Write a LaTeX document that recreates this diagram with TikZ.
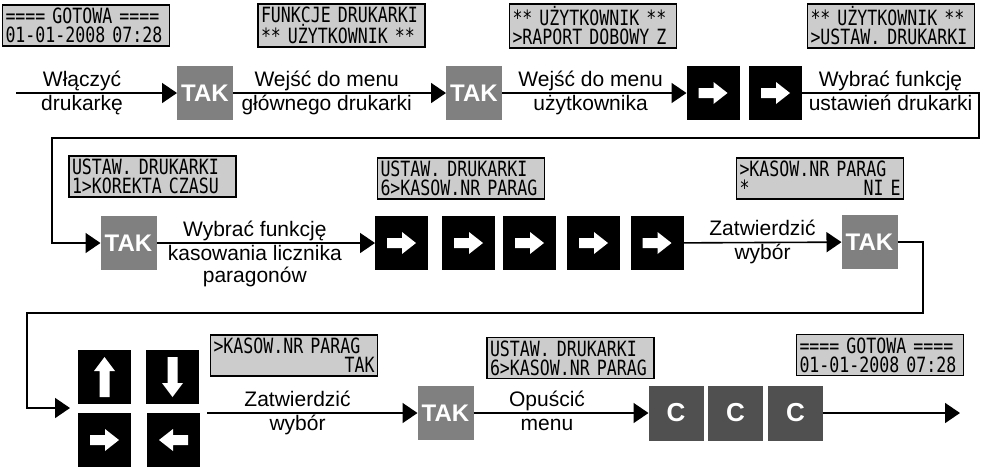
\documentclass[tikz,border=0pt]{standalone}
\usepackage{fontspec}
\setmainfont{Liberation Sans}
\newfontfamily\lcdfont[FakeStretch=0.79]{DejaVu Sans Mono}
\usetikzlibrary{arrows.meta,positioning,calc}

\definecolor{takgray}{RGB}{128,128,128}
\definecolor{cgray}{RGB}{80,80,80}
\definecolor{lcdgray}{RGB}{204,204,204}

% white arrow glyphs on the keys
\newcommand\glyphright{(-14.5,-5) -- (0.5,-5) -- (0.5,-11) -- (14.5,0) -- (0.5,11) -- (0.5,5) -- (-14.5,5) -- cycle}
\newcommand\glyphleft{(14.5,-5) -- (-0.5,-5) -- (-0.5,-11) -- (-14.5,0) -- (-0.5,11) -- (-0.5,5) -- (14.5,5) -- cycle}
\newcommand\glyphdown{(-5,-20) -- (-5,6) -- (-10.5,6) -- (0,20) -- (10.5,6) -- (5,6) -- (5,-20) -- cycle}
\newcommand\glyphup{(-5,20) -- (-5,-6) -- (-10.5,-6) -- (0,-20) -- (10.5,-6) -- (5,-6) -- (5,20) -- cycle}

\begin{document}
\begin{tikzpicture}[
  x=1pt, y=-1pt,
  lcd/.style={draw, fill=lcdgray, line width=1.8pt, align=left, text width=161pt, inner xsep=3pt, inner ysep=3pt, font=\lcdfont\fontsize{21}{19}\selectfont\frenchspacing},
  tak/.style={fill=takgray, text=white, minimum width=56pt, minimum height=54pt, inner sep=0pt, outer sep=0pt, font=\fontsize{24}{24}\selectfont\bfseries},
  ckey/.style={tak, fill=cgray, minimum width=55pt, minimum height=55pt, font=\fontsize{26}{26}\selectfont\bfseries},
  key/.style={fill=black, minimum width=53pt, minimum height=54pt, inner sep=0pt, outer sep=0pt},
  keyarrow/.style={key, path picture={\fill[white, shift={(path picture bounding box.center)}] #1;}},
  arrow/.style={-{Triangle[length=15pt,width=20pt]}, line width=1.6pt},
  lblup/.style={above, inner sep=1pt, text depth=5pt, font=\fontsize{21}{24}\selectfont},
  lbldown/.style={below, inner sep=1pt, text height=15.5pt, font=\fontsize{21}{24}\selectfont}
]
\useasboundingbox (0,0) rectangle (985,467);

% Displays
\node[lcd] (lcdA) at (86,25.5) {==== GOTOWA ====\\01-01-2008 07:28};
\node[lcd] (lcdB) at (341.5,25.5) {FUNKCJE DRUKARKI\\{}** UŻYTKOWNIK **};
\node[lcd] (lcdC) at (593,26) {** UŻYTKOWNIK **\\>RAPORT DOBOWY Z};
\node[lcd] (lcdD) at (891,26) {** UŻYTKOWNIK **\\>USTAW. DRUKARKI};
\node[lcd] (lcdE) at (152.5,176.5) {USTAW. DRUKARKI\\1>KOREKTA CZASU};
\node[lcd] (lcdF) at (461,178.5) {USTAW. DRUKARKI\\6>KASOW.NR PARAG};
\node[lcd] (lcdG) at (820,178.5) {>KASOW.NR PARAG\\{}*\hfill NI E};
\node[lcd] (lcdH) at (294,355.5) {>KASOW.NR PARAG\\\hfill TAK};
\node[lcd] (lcdI) at (570.5,358) {USTAW. DRUKARKI\\6>KASOW.NR PARAG};
\node[lcd] (lcdJ) at (880,355) {==== GOTOWA ====\\01-01-2008 07:28};

% Row 1
\coordinate (on) at (16,93);
\node[tak] (tak1) at (205,93) {TAK};
\node[tak] (tak2) at (474,93) {TAK};
\node[keyarrow=\glyphright] (r1) at (713,93) {};
\node[keyarrow=\glyphright] (r2) at (775.5,93) {};

% Row 2
\node[tak] (tak3) at (128.5,243) {TAK};
\node[keyarrow=\glyphright] (r3) at (401.5,243) {};
\node[keyarrow=\glyphright] (r4) at (468.5,243) {};
\node[keyarrow=\glyphright] (r5) at (529.5,243) {};
\node[keyarrow=\glyphright] (r6) at (593.5,243) {};
\node[keyarrow=\glyphright] (r7) at (657,243) {};
\node[tak] (tak4) at (869.5,242) {TAK};

% Row 3
\node[keyarrow=\glyphup] (kup) at (104.5,377) {};
\node[keyarrow=\glyphdown] (kdown) at (172.5,377) {};
\node[keyarrow=\glyphright] (kright) at (104.5,440) {};
\node[keyarrow=\glyphleft] (kleft) at (173.5,440) {};
\coordinate (kin) at (70,408);
\coordinate (kout) at (207,413);
\node[tak] (tak5) at (445.5,413) {TAK};
\node[ckey] (c1) at (676,413) {C};
\node[ckey] (c2) at (735.5,413) {C};
\node[ckey] (c3) at (795.5,413) {C};
\coordinate (off) at (960,413);

% Loop corners
\coordinate (turnA) at (979,138);
\coordinate (turnB) at (52,138);
\coordinate (turnC) at (923,313);
\coordinate (turnD) at (27,313);

% Arrows
\draw[arrow] (on) -- node[lblup, pos=0.41] {Włączyć} node[lbldown, pos=0.41] {drukarkę} (tak1);
\draw[arrow] (tak1) -- node[lblup, pos=0.44] {Wejść do menu} node[lbldown, pos=0.44] {głównego drukarki} (tak2);
\draw[arrow] (tak2) -- node[lblup, pos=0.48] {Wejść do menu} node[lbldown, pos=0.48] {użytkownika} (r1);
\draw[arrow] (r2.east) -| node[lblup, pos=0.25] {Wybrać funkcję} node[lbldown, pos=0.25] {ustawień drukarki} (turnA) -- (turnB) |- (tak3);
\draw[arrow] (tak3) -- node[lblup, pos=0.45] {Wybrać funkcję} node[below, inner sep=1pt, align=center, font=\fontsize{21}{22}\selectfont, pos=0.45] {kasowania licznika\\paragonów} (r3);
\draw[arrow] (r7) -- node[lblup] {Zatwierdzić} node[lbldown] {wybór} (tak4);
\draw[arrow] (tak4.east) -| (turnC) -- (turnD) |- (kin);
\draw[arrow] (kout) -- node[lblup, pos=0.43] {Zatwierdzić} node[lbldown, pos=0.43] {wybór} (tak5);
\draw[arrow] (tak5) -- node[lblup, pos=0.42] {Opuścić} node[lbldown, pos=0.42] {menu} (c1);
\draw[arrow] (c3) -- (off);

\end{tikzpicture}
\end{document}
